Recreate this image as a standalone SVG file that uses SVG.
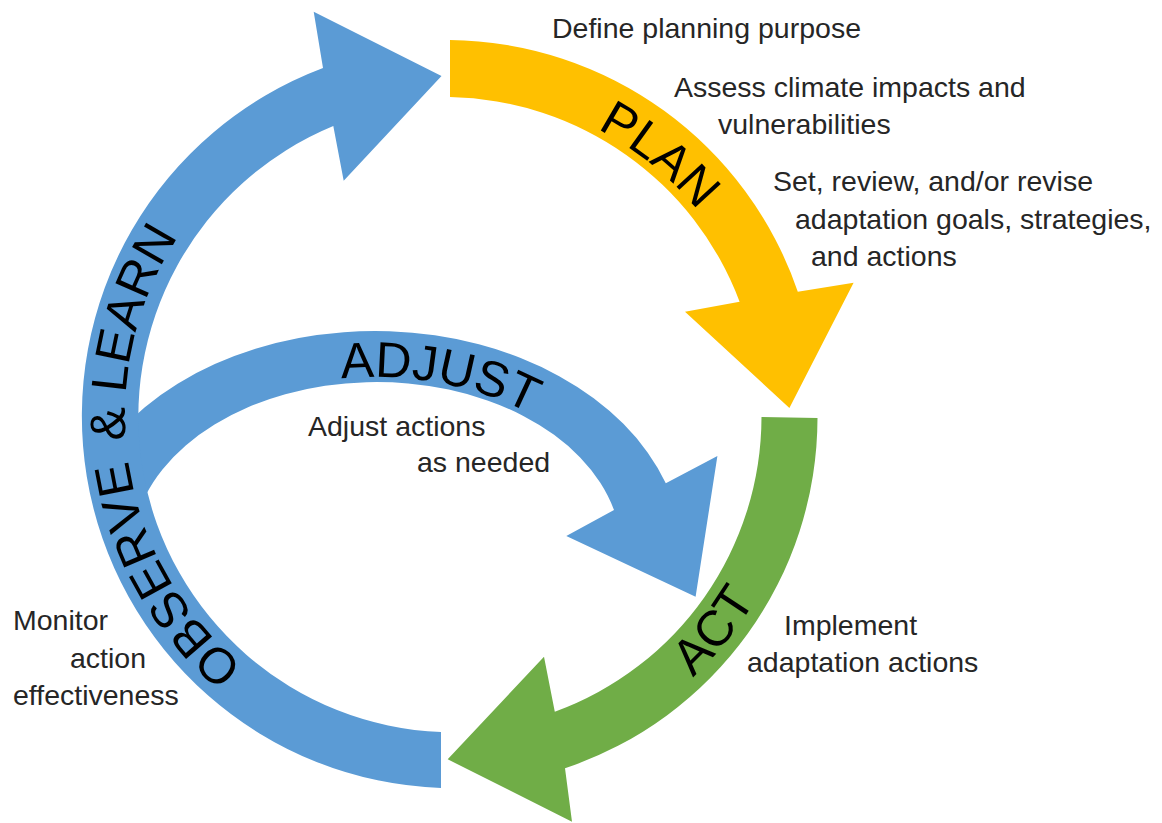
<svg xmlns="http://www.w3.org/2000/svg" width="1162" height="823" viewBox="0 0 1162 823">
<defs>
<style>
.blue{fill:#5B9BD5}
.yellow{fill:#FFC000}
.green{fill:#70AD47}
.big{font-family:"Liberation Sans",Arial,sans-serif;font-size:50px;fill:#000}
.small{font-family:"Liberation Sans",Arial,sans-serif;font-size:28.5px;fill:#262626}
</style>
<path id="pPlan" d="M 449,93 A 322 322 0 0 1 771,415"/>
<path id="pAct" d="M 449,773 A 358 358 0 0 0 807,415"/>
<path id="pObs" d="M 449,739 A 324 324 0 0 1 449,91"/>
<path id="pAdj" d="M 341.5,378.6 A 257 181 0 0 1 632,558"/>
</defs>
<rect width="1162" height="823" fill="#fff"/>

<g id="adjust">
<path class="blue" d="M 95,463.4 A 308 227 0 0 1 665.8,483.3 L 717.4,456 L 695.6,596.7 L 566.3,536 L 614,510 A 245 170 0 0 0 135,523.8 Z"/>
<text class="big"><textPath href="#pAdj">ADJUST</textPath></text>
<text class="small" x="308" y="436">Adjust actions</text>
<text class="small" x="417" y="472">as needed</text>
</g>

<g id="observe-learn">
<path class="blue" d="M 441,788 A 372 372 0 0 1 323,68 L 313.7,11.7 L 441.5,76 L 343.7,180.7 L 333.3,126 A 315 315 0 0 0 441,732 Z"/>
<text class="big"><textPath href="#pObs" startOffset="342.7" text-anchor="middle">OBSERVE</textPath></text>
<text class="big"><textPath href="#pObs" startOffset="590.4" text-anchor="middle">&amp; LEARN</textPath></text>
<text class="small" x="13" y="630">Monitor</text>
<text class="small" x="70" y="668">action</text>
<text class="small" x="13" y="705">effectiveness</text>
</g>

<g id="plan">
<path class="yellow" d="M 450,40 A 372 372 0 0 1 797.8,291.7 L 853.6,282.7 L 789.4,408 L 685,311.7 L 739.6,301.7 A 316 316 0 0 0 450,97 Z"/>
<text class="big"><textPath href="#pPlan" startOffset="219" text-anchor="middle">PLAN</textPath></text>
<text class="small" x="552" y="38">Define planning purpose</text>
<text class="small" x="674" y="97">Assess climate impacts and</text>
<text class="small" x="718" y="134">vulnerabilities</text>
<text class="small" x="773" y="191">Set, review, and/or revise</text>
<text class="small" x="795" y="229">adaptation goals, strategies,</text>
<text class="small" x="811" y="266">and actions</text>
</g>

<g id="act">
<path class="green" d="M 817.5,418 A 370 370 0 0 1 565,768.3 L 572,821.7 L 447.7,759.3 L 544,656.7 L 554.8,711.7 A 314 314 0 0 0 761.5,417 Z"/>
<text class="big"><textPath href="#pAct" startOffset="318" text-anchor="middle">ACT</textPath></text>
<text class="small" x="784" y="635">Implement</text>
<text class="small" x="747" y="672">adaptation actions</text>
</g>

<g id="connectors"></g>
</svg>
